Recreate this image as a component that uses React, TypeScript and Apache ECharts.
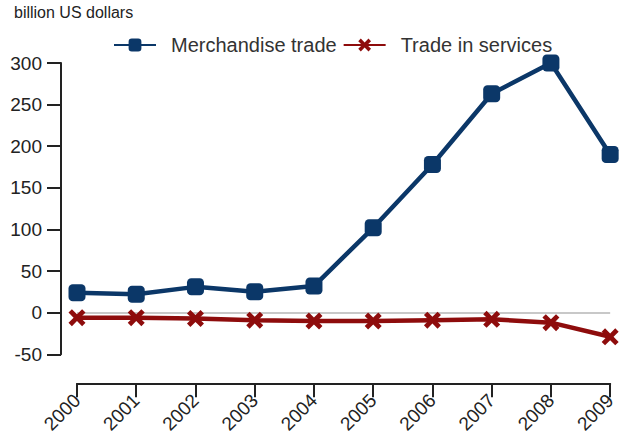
import React, { useEffect, useRef } from "react";
import * as echarts from "echarts";

const years = ["2000", "2001", "2002", "2003", "2004", "2005", "2006", "2007", "2008", "2009"];
const merchandise = [24, 22, 31, 25, 32, 102, 178, 263, 300, 190];
const services = [-6, -6, -7, -9, -10, -10, -9, -8, -12, -29];
const unitLabel = "billion US dollars";

const BLUE = "#0b3768";
const RED = "#8e0c0c";
const FONT = "Liberation Sans, Arial, sans-serif";
const X_SYMBOL = "path://M2,0 L5,3 L8,0 L10,2 L7,5 L10,8 L8,10 L5,7 L2,10 L0,8 L3,5 L0,2 Z";

export default function App() {
  const ref = useRef<HTMLDivElement>(null);
  useEffect(() => {
    if (!ref.current) return;
    const chart = echarts.init(ref.current, null, { renderer: "svg" });
    chart.setOption({
      animation: false,
      backgroundColor: "#ffffff",
      textStyle: { fontFamily: FONT },
      graphic: [
        {
          type: "text",
          left: 14,
          top: 4,
          style: { text: unitLabel, fontSize: 16, fill: "#222", fontFamily: FONT },
        },
      ],
      legend: {
        top: 30,
        left: 108,
        itemWidth: 42,
        itemHeight: 16,
        itemGap: 6,
        textStyle: { fontSize: 20, color: "#333", fontFamily: FONT, padding: [0, 0, 0, 10] },
        data: ["Merchandise trade", "Trade in services"],
      },
      grid: { left: 77, right: 5, top: 63, bottom: 78 },
      xAxis: {
        type: "category",
        data: years,
        boundaryGap: false,
        offset: 29,
        axisLine: { onZero: false, lineStyle: { color: "#222", width: 2 } },
        axisTick: { alignWithLabel: true, length: 14, lineStyle: { color: "#222", width: 2 } },
        axisLabel: { rotate: 45, fontSize: 19, color: "#222", margin: 14, fontFamily: FONT },
        splitLine: { show: false },
      },
      yAxis: {
        type: "value",
        min: -50,
        max: 300,
        interval: 50,
        offset: 16,
        axisLine: { show: true, onZero: false, lineStyle: { color: "#222", width: 2 } },
        axisTick: { show: true, length: 14, lineStyle: { color: "#222", width: 2 } },
        axisLabel: { fontSize: 19, color: "#222", margin: 19, fontFamily: FONT },
        splitLine: { show: false },
      },
      series: [
        {
          name: "Merchandise trade",
          type: "line",
          data: merchandise,
          symbol: "roundRect",
          symbolSize: 17,
          lineStyle: { color: BLUE, width: 4.5 },
          itemStyle: { color: BLUE },
          z: 3,
          markLine: {
            silent: true,
            symbol: "none",
            label: { show: false },
            lineStyle: { color: "#c8c8c8", width: 2, type: "solid" },
            data: [{ yAxis: 0 }],
            z: 1,
          },
        },
        {
          name: "Trade in services",
          type: "line",
          data: services,
          symbol: X_SYMBOL,
          symbolSize: 17,
          lineStyle: { color: RED, width: 4.5 },
          itemStyle: { color: RED },
          z: 4,
        },
      ],
    });
    return () => chart.dispose();
  }, []);
  return (
    <div
      ref={ref}
      style={{ position: "absolute", left: 0, top: 0, width: 619, height: 436 }}
    />
  );
}
